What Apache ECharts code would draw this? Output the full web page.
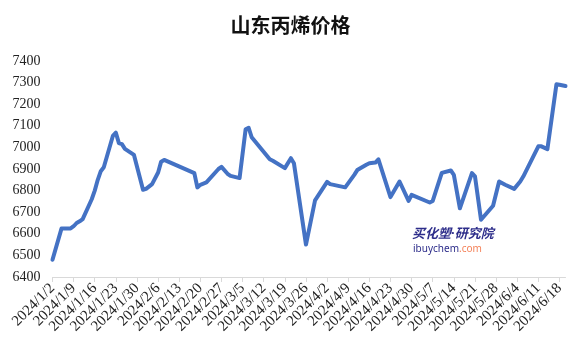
<!DOCTYPE html>
<html>
<head>
<meta charset="utf-8">
<script src="https://cdn.jsdelivr.net/npm/echarts@6/dist/echarts.min.js"></script>
<style>
html,body{margin:0;padding:0;background:#fff;}
#chart{width:581px;height:357px;}
</style>
</head>
<body>
<div id="chart"></div>
<script>
// Data
const titleText = '山东丙烯价格';
const axisStart = '2024/1/2';
const axisEnd = '2024/6/20';
const dates = [
 '2024/1/2','2024/1/5','2024/1/8','2024/1/9','2024/1/10','2024/1/11','2024/1/12',
 '2024/1/15','2024/1/16','2024/1/17','2024/1/18','2024/1/19','2024/1/22','2024/1/23',
 '2024/1/24','2024/1/25','2024/1/26','2024/1/29','2024/2/1','2024/2/2','2024/2/4',
 '2024/2/6','2024/2/7','2024/2/8','2024/2/18','2024/2/19','2024/2/20','2024/2/22',
 '2024/2/26','2024/2/27','2024/2/29','2024/3/1','2024/3/4','2024/3/6','2024/3/7','2024/3/8',
 '2024/3/14','2024/3/15','2024/3/19','2024/3/21','2024/3/22','2024/3/26','2024/3/29',
 '2024/4/2','2024/4/3','2024/4/8','2024/4/11','2024/4/12','2024/4/15','2024/4/16',
 '2024/4/18','2024/4/19','2024/4/23','2024/4/26','2024/4/29','2024/4/30','2024/5/6',
 '2024/5/7','2024/5/10','2024/5/13','2024/5/14','2024/5/16','2024/5/20','2024/5/21',
 '2024/5/23','2024/5/27','2024/5/29','2024/5/31','2024/6/3','2024/6/5','2024/6/6',
 '2024/6/11','2024/6/12','2024/6/14','2024/6/17','2024/6/18','2024/6/20'
];
const prices = [
 6480,6625,6625,6635,6650,6658,6668,
 6760,6800,6850,6890,6908,7053,7068,
 7020,7015,6993,6965,6804,6808,6830,
 6884,6934,6942,6881,6815,6827,6838,
 6900,6910,6878,6868,6858,7084,7091,7047,
 6945,6938,6904,6950,6927,6550,6755,
 6840,6830,6815,6873,6895,6920,6927,
 6930,6945,6770,6842,6752,6780,6745,
 6752,6882,6893,6873,6718,6881,6866,
 6665,6730,6842,6827,6808,6842,6865,
 7005,7005,6992,7292,7290,7284
];
const yMin = 6400, yMax = 7400, yStep = 100;

// calendar-day categories for a date-scaled axis
function parseD(s){const p=s.split('/').map(Number);return new Date(p[0],p[1]-1,p[2]);}
function fmt(d){return d.getFullYear()+'/'+(d.getMonth()+1)+'/'+d.getDate();}
const categories = [];
for (let d = parseD(axisStart); d <= parseD(axisEnd); d.setDate(d.getDate()+1)) categories.push(fmt(d));

const chart = echarts.init(document.getElementById('chart'), null, {renderer:'canvas'});
chart.setOption({
  animation:false,
  backgroundColor:'#ffffff',
  title:{
    text:titleText, left:'center', top:10,
    textStyle:{fontFamily:'"Noto Sans CJK SC"', fontSize:20, fontWeight:'bold', color:'#111'}
  },
  grid:{left:52.5, right:15.5, top:61, bottom:80, containLabel:false},
  xAxis:{
    type:'category', data:categories, boundaryGap:false,
    axisLine:{lineStyle:{color:'#d9d9d9', width:1}},
    axisTick:{interval:6, length:5, lineStyle:{color:'#d9d9d9'}},
    axisLabel:{interval:6, rotate:45, margin:9, fontFamily:'"Liberation Serif"', fontSize:15, color:'#222'},
    splitLine:{show:false}
  },
  yAxis:{
    type:'value', min:yMin, max:yMax, interval:yStep,
    axisLine:{show:false}, axisTick:{show:false}, splitLine:{show:false},
    axisLabel:{margin:12, fontFamily:'"Liberation Serif"', fontSize:14, color:'#222', formatter:v=>String(v)}
  },
  series:[{
    type:'line', symbol:'none', smooth:false,
    data:dates.map((d,i)=>[d, prices[i]]),
    lineStyle:{color:'#4472c4', width:4, join:'round', cap:'round'}
  }],
  graphic:[
    {type:'text', left:412, top:227, style:{
      text:'{c|买化塑}{d|·}{c|研究院}',
      rich:{
        c:{fontFamily:'"Noto Sans CJK SC"', fontStyle:'italic', fontWeight:'bold', fontSize:13, fill:'#2d2d8a', color:'#2d2d8a'},
        d:{fontFamily:'"Noto Sans"', fontWeight:'bold', fontSize:13, fill:'#2d2d8a', color:'#2d2d8a'}
      }
    }},
    {type:'text', left:413, top:244, style:{
      text:'{a|ibuychem}{b|.com}',
      rich:{a:{fontFamily:'"Noto Sans"', fontSize:10, fill:'#2d2d8a', color:'#2d2d8a'}, b:{fontFamily:'"Noto Sans"', fontSize:10, fill:'#f4825a', color:'#f4825a'}}
    }}
  ]
});
</script>
</body>
</html>
